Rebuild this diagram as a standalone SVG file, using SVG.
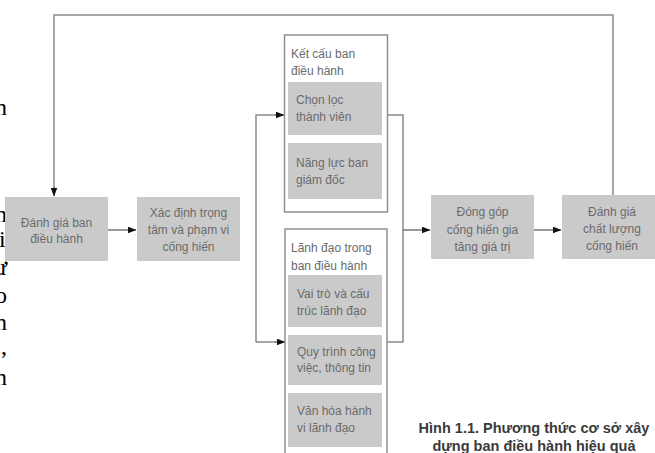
<svg xmlns="http://www.w3.org/2000/svg" width="655" height="453" viewBox="0 0 655 453">
<style>
.bx{fill:#cacaca;}
.ob{fill:#ffffff;stroke:#909090;stroke-width:1.5;}
.t{font-family:"Liberation Sans",Arial,sans-serif;font-size:12px;fill:#6a6a6a;}
.tc{text-anchor:middle;}
.ln{fill:none;stroke:#8a8a8a;stroke-width:1.5;}
.ar{fill:none;stroke:#555;stroke-width:1.2;}
.bk{font-family:"Liberation Serif","Times New Roman",serif;font-size:24px;fill:#000;}
.cap{font-family:"Liberation Sans",Arial,sans-serif;font-size:14.5px;font-weight:bold;fill:#3a3a3a;text-anchor:middle;}
</style>
<defs>
<marker id="ah" markerWidth="9" markerHeight="7" refX="8.5" refY="3.5" orient="auto" markerUnits="userSpaceOnUse">
<path d="M0,0 L9,3.5 L0,7 Z" fill="#111"/>
</marker>
</defs>
<rect width="655" height="453" fill="#ffffff"/>

<g id="book-text">
<text class="bk" x="-5" y="115">n</text>
<text class="bk" x="-5" y="222">n</text>
<text class="bk" x="-1" y="247">i</text>
<text class="bk" x="-6" y="275">ư</text>
<text class="bk" x="-5" y="303">o</text>
<text class="bk" x="-5" y="330">n</text>
<text class="bk" x="1" y="354">,</text>
<text class="bk" x="-5" y="385">n</text>
</g>

<g id="connectors">
<path class="ln" d="M613,195 V15 H54 V188"/>
<path class="ar" d="M54,187 V196" marker-end="url(#ah)"/>
<path class="ar" d="M108,230 H136" marker-end="url(#ah)"/>
<path class="ln" d="M256,342 V115 H276"/>
<path class="ar" d="M275,115 H284" marker-end="url(#ah)"/>
<path class="ln" d="M256,342 H276"/>
<path class="ar" d="M275,342 H285" marker-end="url(#ah)"/>
<path class="ln" d="M387,115 H403 V342 H387"/>
<path class="ar" d="M403,230 H430" marker-end="url(#ah)"/>
<path class="ar" d="M534,230 H561" marker-end="url(#ah)"/>
</g>

<g id="danh-gia-ban-dieu-hanh">
<rect class="bx" x="5" y="197" width="103" height="64"/>
<text class="t tc" x="56.5" y="227">Đánh giá ban</text>
<text class="t tc" x="56.5" y="243">điều hành</text>
</g>

<g id="xac-dinh-trong-tam">
<rect class="bx" x="137" y="197" width="103" height="64"/>
<text class="t tc" x="188.5" y="217">Xác định trọng</text>
<text class="t tc" x="188.5" y="234">tâm và phạm vi</text>
<text class="t tc" x="188.5" y="251">cống hiến</text>
</g>

<g id="ket-cau-ban-dieu-hanh">
<rect class="ob" x="284.5" y="35" width="103" height="177"/>
<text class="t" x="291" y="58">Kết cấu ban</text>
<text class="t" x="291" y="75">điều hành</text>
</g>

<g id="chon-loc-thanh-vien">
<rect class="bx" x="288" y="82" width="94" height="53"/>
<text class="t" x="296" y="104">Chọn lọc</text>
<text class="t" x="296" y="121">thành viên</text>
</g>

<g id="nang-luc-ban-giam-doc">
<rect class="bx" x="288" y="143" width="94" height="56"/>
<text class="t" x="296" y="167">Năng lực ban</text>
<text class="t" x="296" y="184">giám đốc</text>
</g>

<g id="lanh-dao-trong-ban-dieu-hanh">
<rect class="ob" x="285" y="229" width="102" height="240"/>
<text class="t" x="291" y="252">Lãnh đạo trong</text>
<text class="t" x="291" y="270">ban điều hành</text>
</g>

<g id="vai-tro-va-cau-truc">
<rect class="bx" x="288" y="275" width="94" height="52"/>
<text class="t" x="297" y="298">Vai trò và cấu</text>
<text class="t" x="297" y="315">trúc lãnh đạo</text>
</g>

<g id="quy-trinh-cong-viec">
<rect class="bx" x="288" y="335" width="94" height="50"/>
<text class="t" x="297" y="356">Quy trình công</text>
<text class="t" x="297" y="372">việc, thông tin</text>
</g>

<g id="van-hoa-hanh-vi">
<rect class="bx" x="288" y="393" width="94" height="54"/>
<text class="t" x="297" y="415">Văn hóa hành</text>
<text class="t" x="297" y="432">vi lãnh đạo</text>
</g>

<g id="dong-gop-cong-hien">
<rect class="bx" x="431" y="195" width="103" height="64"/>
<text class="t tc" x="482.5" y="216">Đóng góp</text>
<text class="t tc" x="482.5" y="234">cống hiến gia</text>
<text class="t tc" x="482.5" y="251">tăng giá trị</text>
</g>

<g id="danh-gia-chat-luong">
<rect class="bx" x="562" y="195" width="100" height="64"/>
<text class="t tc" x="612" y="216">Đánh giá</text>
<text class="t tc" x="612" y="233">chất lượng</text>
<text class="t tc" x="612" y="250">cống hiến</text>
</g>

<g id="caption">
<text class="cap" x="534" y="433">Hình 1.1. Phương thức cơ sở xây</text>
<text class="cap" x="534" y="451">dựng ban điều hành hiệu quả</text>
</g>
</svg>
